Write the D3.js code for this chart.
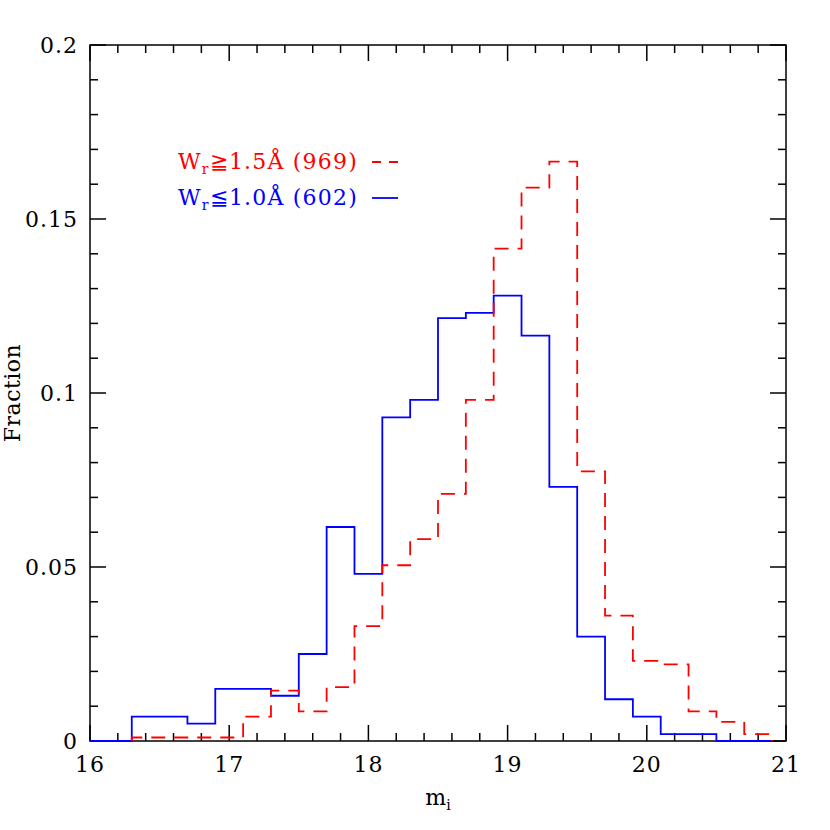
<!DOCTYPE html><html><head><meta charset="utf-8"><script src="https://cdn.jsdelivr.net/npm/d3@7"></script>
<style>body{margin:0;background:#fff}text{font-family:"DejaVu Serif",serif}</style></head><body><svg id="c" width="830" height="830"></svg><script>
const binEdges=[16.3,16.5,16.7,16.9,17.1,17.3,17.5,17.7,17.9,18.1,18.3,18.5,18.7,18.9,19.1,19.3,19.5,19.7,19.9,20.1,20.3,20.5,20.7,20.9];
const blueVals=[0.007,0.007,0.005,0.015,0.015,0.013,0.025,0.0615,0.048,0.093,0.098,0.1215,0.123,0.128,0.1165,0.073,0.030,0.012,0.007,0.002,0.002,0,0];
const redVals=[0.001,0.001,0.001,0.001,0.007,0.0145,0.0085,0.0155,0.033,0.0505,0.058,0.071,0.098,0.1415,0.159,0.1665,0.0775,0.036,0.023,0.022,0.0085,0.0055,0.002];
const xTicks=[16,17,18,19,20,21];
const yTicks=[0,0.05,0.1,0.15,0.2];
const yLabels=["0","0.05","0.1","0.15","0.2"];
const svg=d3.select("#c");
const L=90,R=786,T=45,B=741;
const x=d3.scaleLinear().domain([16,21]).range([L,R]);
const y=d3.scaleLinear().domain([0,0.2]).range([B,T]);
const g=svg.append("g");
g.append("rect").attr("x",L).attr("y",T).attr("width",R-L).attr("height",B-T).attr("fill","none").attr("stroke","#000").attr("stroke-width",1.5);
const minorX=d3.range(16,21.001,0.2), minorY=d3.range(0,0.2001,0.01);
minorX.forEach(v=>{const maj=Math.abs(v-Math.round(v))<1e-6, len=maj?16:8;
 g.append("line").attr("x1",x(v)).attr("x2",x(v)).attr("y1",B).attr("y2",B-len).attr("stroke","#000").attr("stroke-width",1.5);
 g.append("line").attr("x1",x(v)).attr("x2",x(v)).attr("y1",T).attr("y2",T+len).attr("stroke","#000").attr("stroke-width",1.5);});
minorY.forEach(v=>{const maj=Math.abs(v/0.05-Math.round(v/0.05))<1e-6, len=maj?16:8;
 g.append("line").attr("y1",y(v)).attr("y2",y(v)).attr("x1",L).attr("x2",L+len).attr("stroke","#000").attr("stroke-width",1.5);
 g.append("line").attr("y1",y(v)).attr("y2",y(v)).attr("x1",R).attr("x2",R-len).attr("stroke","#000").attr("stroke-width",1.5);});
xTicks.forEach(v=>g.append("text").attr("x",x(v)).attr("y",B+31).attr("text-anchor","middle").attr("font-size",22).attr("letter-spacing",1).text(v));
yTicks.forEach((v,i)=>g.append("text").attr("x",L-12).attr("y",y(v)+8).attr("text-anchor","end").attr("font-size",22).attr("letter-spacing",1).text(yLabels[i]));
const xl=g.append("text").attr("x",(L+R)/2).attr("y",805).attr("text-anchor","middle").attr("font-size",22).text("m");
xl.append("tspan").attr("font-size",14).attr("dy",5).text("i");
g.append("text").attr("transform",`translate(20,${(T+B)/2}) rotate(-90)`).attr("text-anchor","middle").attr("font-size",22).attr("letter-spacing",0.5).text("Fraction");
function stepData(vals,start0){const pts=[];if(start0)pts.push([16,0]);pts.push([binEdges[0],0]);
 vals.forEach((v,i)=>{pts.push([binEdges[i],v]);pts.push([binEdges[i+1],v]);});pts.push([binEdges[vals.length],0]);return pts;}
const line=d3.line().x(d=>x(d[0])).y(d=>y(d[1]));
g.append("path").attr("d",line(stepData(blueVals,true))).attr("fill","none").attr("stroke","#0000ff").attr("stroke-width",1.8);
g.append("path").attr("d",line(stepData(redVals,false))).attr("fill","none").attr("stroke","#ff0000").attr("stroke-width",1.8).attr("stroke-dasharray","14,9");
const leg=[{t:"≧1.5Å (969)",c:"#ff0000",d:"14,9",y:169},{t:"≦1.0Å (602)",c:"#0000ff",d:null,y:205}];
leg.forEach(l=>{const t=g.append("text").attr("x",178).attr("y",l.y).attr("font-size",22).attr("letter-spacing",1.2).attr("fill",l.c).text("W");
 t.append("tspan").attr("font-size",14).attr("dy",5).text("r");t.append("tspan").attr("dy",-5).text(l.t);
 const ln=g.append("line").attr("x1",372).attr("x2",398).attr("y1",l.y-7).attr("y2",l.y-7).attr("stroke",l.c).attr("stroke-width",1.8);
 if(l.d)ln.attr("stroke-dasharray","9,8");});
</script></body></html>
